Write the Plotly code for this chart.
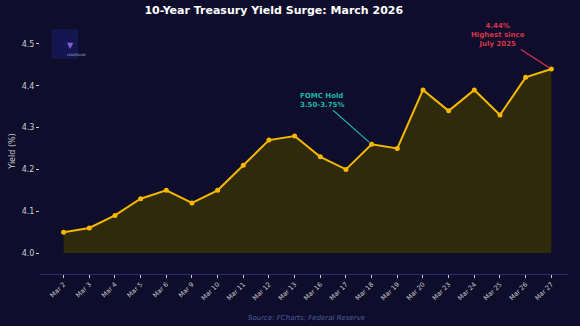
import plotly.graph_objects as go

dates = ["Mar 2", "Mar 3", "Mar 4", "Mar 5", "Mar 6", "Mar 9", "Mar 10", "Mar 11", "Mar 12", "Mar 13",
         "Mar 16", "Mar 17", "Mar 18", "Mar 19", "Mar 20", "Mar 23", "Mar 24", "Mar 25", "Mar 26", "Mar 27"]
yields = [4.05, 4.06, 4.09, 4.13, 4.15, 4.12, 4.15, 4.21, 4.27, 4.28,
          4.23, 4.20, 4.26, 4.25, 4.39, 4.34, 4.39, 4.33, 4.42, 4.44]
baseline = [4.0] * len(dates)
y_ticks = [4.0, 4.1, 4.2, 4.3, 4.4, 4.5]

bg = "#0e0e2c"
gold = "#f5b800"

fig = go.Figure()
fig.add_trace(go.Scatter(x=dates, y=baseline, mode="lines", line=dict(width=0),
                         hoverinfo="skip", showlegend=False))
fig.add_trace(go.Scatter(x=dates, y=yields, mode="lines+markers", fill="tonexty",
                         fillcolor="#2f2a0c",
                         line=dict(color=gold, width=2), marker=dict(color=gold, size=5),
                         showlegend=False))

fig.add_annotation(x="Mar 18", y=4.26, text="<b>FOMC Hold<br>3.50-3.75%</b>", showarrow=True,
                   ax=-50, ay=-44, arrowhead=0, arrowwidth=1.2, arrowcolor="#1fb5a5",
                   font=dict(family="DejaVu Sans", size=7, color="#1fb5a5"), align="left", standoff=3)
fig.add_annotation(x="Mar 27", y=4.44, text="<b>4.44%<br>Highest since<br>July 2025</b>", showarrow=True,
                   ax=-53, ay=-34, arrowhead=0, arrowwidth=1.2, arrowcolor="#d9344a",
                   font=dict(family="DejaVu Sans", size=7, color="#d9344a"), align="center", standoff=3)

# logo placeholder
fig.add_shape(type="rect", xref="paper", yref="paper", x0=0.022, x1=0.072, y0=0.875, y1=0.995,
              fillcolor="#141650", line=dict(width=0))
fig.add_annotation(xref="paper", yref="paper", x=0.047, y=0.905, text="LEADERLINE", showarrow=False,
                   font=dict(family="DejaVu Sans", size=3, color="#b0b0d0"))
fig.add_annotation(xref="paper", yref="paper", x=0.047, y=0.955, text="▼", showarrow=False,
                   font=dict(family="DejaVu Sans", size=8, color="#8a5cd0"))

fig.add_annotation(xref="paper", yref="paper", x=0.505, y=-0.155, yanchor="top",
                   text="<i>Source: FCharts; Federal Reserve</i>", showarrow=False,
                   font=dict(family="DejaVu Sans", size=7, color="#4e5c9a"))

fig.update_layout(
    width=580, height=326,
    margin=dict(l=33, r=12, t=28, b=52),
    paper_bgcolor=bg, plot_bgcolor=bg,
    title=dict(text="<b>10-Year Treasury Yield Surge: March 2026</b>", x=0.472, xanchor="center",
               y=0.98, yanchor="top", font=dict(family="DejaVu Sans", size=11, color="white")),
    font=dict(family="DejaVu Sans", color="#cccccc"),
    xaxis=dict(type="category", range=[-0.92, 19.65], tickangle=-45, showgrid=False, zeroline=False,
               tickfont=dict(size=6.5, color="#cccccc"), ticks="outside", ticklen=3, tickcolor="#cccccc",
               showline=True, linecolor="#2a2a70", linewidth=1),
    yaxis=dict(range=[3.95, 4.538], tickvals=y_ticks, ticktext=["4.0", "4.1", "4.2", "4.3", "4.4", "4.5"],
               showgrid=False, zeroline=False, ticks="outside", ticklen=3, tickcolor="#cccccc",
               tickfont=dict(size=8, color="#cccccc"),
               title=dict(text="Yield (%)", font=dict(size=8, color="#cccccc"), standoff=4),
               showline=False),
)

fig.write_html("out.html")
